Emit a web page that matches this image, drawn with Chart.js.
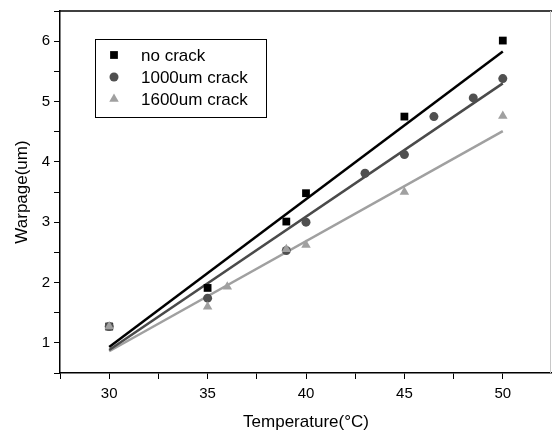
<!DOCTYPE html>
<html>
<head>
<meta charset="utf-8">
<script src="https://cdn.jsdelivr.net/npm/chart.js@4.4.1/dist/chart.umd.min.js"></script>
<style>
  html, body { margin: 0; padding: 0; background: #fff; overflow: hidden; }
  #wrap { width: 552px; height: 433px; }
  canvas { display: block; }
</style>
</head>
<body>
<div id="wrap"><canvas id="warpChart"></canvas></div>
<script>
// measured points
var noCrackTemp = [30, 35, 39, 40, 45, 50];
var noCrackWarp = [1.27, 1.91, 3.01, 3.48, 4.75, 6.01];

var crack1000Temp = [30, 35, 39, 40, 43, 45, 46.5, 48.5, 50];
var crack1000Warp = [1.27, 1.74, 2.53, 3.0, 3.81, 4.12, 4.75, 5.06, 5.38];

var crack1600Temp = [30, 35, 36, 39, 40, 45, 50];
var crack1600Warp = [1.27, 1.6, 1.93, 2.55, 2.62, 3.5, 4.76];

// fitted lines (end points)
var fitTemp = [30, 50];
var noCrackFit = [0.93, 5.83];
var crack1000Fit = [0.88, 5.3];
var crack1600Fit = [0.86, 4.51];

var seriesNames = ['no crack', '1000um crack', '1600um crack'];
var xTicks = [30, 35, 40, 45, 50];
var yTicks = [1, 2, 3, 4, 5, 6];

function pts(xs, ys) {
    return xs.map(function(x, i) { return { x: x, y: ys[i] }; });
}

var FONT = "'Liberation Sans', Arial, sans-serif";
var colBlack = '#000000';
var colDark = '#505050';
var colLight = '#a0a0a0';

function fitSet(ys, col) {
    return {
        type: 'line',
        data: pts(fitTemp, ys),
        borderColor: col,
        borderWidth: 2.5,
        pointRadius: 0,
        fill: false,
        order: 5
    };
}

// frame + legend box inside the plot
var framePlugin = {
    id: 'frame',
    afterDraw: function(chart) {
        var ctx = chart.ctx;
        var a = chart.chartArea;
        ctx.save();
        ctx.strokeStyle = '#000';
        ctx.lineWidth = 1.5;
        ctx.beginPath();
        ctx.moveTo(a.left, a.top);
        ctx.lineTo(a.right, a.top);
        ctx.stroke();
        ctx.strokeStyle = '#c8c8c8';
        ctx.lineWidth = 1;
        ctx.beginPath();
        ctx.moveTo(a.right - 1.5, a.top);
        ctx.lineTo(a.right - 1.5, a.bottom);
        ctx.stroke();

        // legend
        var bx = a.left + 35, by = a.top + 28, bw = 171, bh = 78;
        ctx.strokeStyle = '#000';
        ctx.lineWidth = 1;
        ctx.strokeRect(bx + 0.5, by + 0.5, bw, bh);
        var styles = ['rect', 'circle', 'triangle'];
        var cols = [colBlack, colDark, colLight];
        var radii = [5.5, 4.5, 5.5];
        ctx.font = '17px ' + FONT;
        ctx.textBaseline = 'middle';
        ctx.textAlign = 'left';
        for (var i = 0; i < 3; i++) {
            var cy = by + 16 + i * 22;
            ctx.fillStyle = cols[i];
            ctx.strokeStyle = cols[i];
            Chart.helpers.drawPoint(ctx, { pointStyle: styles[i], radius: radii[i], borderWidth: 0, rotation: 0 }, bx + 19, cy);
            ctx.fillStyle = '#000';
            ctx.fillText(seriesNames[i], bx + 46, cy + 1);
        }
        ctx.restore();
    }
};

var ctx = document.getElementById('warpChart').getContext('2d');
var chart = new Chart(ctx, {
    type: 'scatter',
    data: {
        datasets: [
            fitSet(noCrackFit, colBlack),
            fitSet(crack1000Fit, '#4a4a4a'),
            fitSet(crack1600Fit, colLight),
            {
                label: seriesNames[0],
                data: pts(noCrackTemp, noCrackWarp),
                pointStyle: 'rect',
                pointRadius: 5.5,
                backgroundColor: colBlack,
                borderWidth: 0,
                order: 3
            },
            {
                label: seriesNames[1],
                data: pts(crack1000Temp, crack1000Warp),
                pointStyle: 'circle',
                pointRadius: 4.5,
                backgroundColor: colDark,
                borderWidth: 0,
                order: 2
            },
            {
                label: seriesNames[2],
                data: pts(crack1600Temp, crack1600Warp),
                pointStyle: 'triangle',
                pointRadius: 5.5,
                backgroundColor: colLight,
                borderWidth: 0,
                order: 1
            }
        ]
    },
    options: {
        responsive: true,
        maintainAspectRatio: false,
        animation: false,
        layout: { autoPadding: false, padding: { top: 11, right: 0, left: 0, bottom: 0 } },
        plugins: {
            legend: { display: false },
            tooltip: { enabled: false }
        },
        scales: {
            x: {
                type: 'linear',
                min: 27.5,
                max: 52.5,
                afterFit: function(s) {
                    s.height = 60;
                    s.paddingLeft = 0;
                    s.paddingRight = 0;
                    s.paddingTop = 0;
                    s.paddingBottom = 0;
                },
                afterBuildTicks: function(s) {
                    var t = [];
                    for (var v = 27.5; v <= 52.5; v += 2.5) t.push({ value: v });
                    s.ticks = t;
                },
                ticks: {
                    color: '#000',
                    font: { family: FONT, size: 15 },
                    padding: 6,
                    maxRotation: 0,
                    autoSkip: false,
                    callback: function(v) { return xTicks.indexOf(v) >= 0 ? String(v) : ''; }
                },
                grid: { drawOnChartArea: false, drawTicks: true, tickLength: 6, color: '#000', lineWidth: 1 },
                border: { display: true, color: '#000', width: 1.5 },
                title: {
                    display: true,
                    text: 'Temperature(°C)',
                    color: '#000',
                    font: { family: FONT, size: 17 },
                    padding: { top: 0, bottom: 0 }
                }
            },
            y: {
                type: 'linear',
                min: 0.5,
                max: 6.5,
                afterFit: function(s) {
                    s.width = 60;
                    s.paddingLeft = 0;
                    s.paddingRight = 0;
                    s.paddingTop = 0;
                    s.paddingBottom = 0;
                },
                afterBuildTicks: function(s) {
                    var t = [];
                    for (var v = 0.5; v <= 6.5; v += 0.5) t.push({ value: v });
                    s.ticks = t;
                },
                ticks: {
                    color: '#000',
                    font: { family: FONT, size: 15 },
                    padding: 4,
                    autoSkip: false,
                    callback: function(v) { return yTicks.indexOf(v) >= 0 ? String(v) : ''; }
                },
                grid: { drawOnChartArea: false, drawTicks: true, tickLength: 6, color: '#000', lineWidth: 1 },
                border: { display: true, color: '#000', width: 1.5 },
                title: {
                    display: true,
                    text: 'Warpage(um)',
                    color: '#000',
                    font: { family: FONT, size: 17 },
                    padding: { top: 12, bottom: 0 }
                }
            }
        }
    },
    plugins: [framePlugin]
});
</script>
</body>
</html>
